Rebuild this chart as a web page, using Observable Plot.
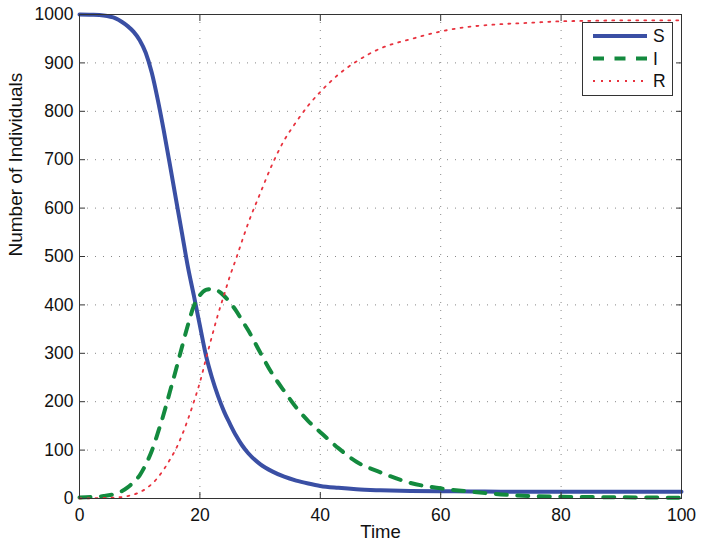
<!DOCTYPE html>
<html><head><meta charset="utf-8">
<script src="https://cdn.jsdelivr.net/npm/d3@7"></script>
<script src="https://cdn.jsdelivr.net/npm/@observablehq/plot@0.6"></script>
<style>
body{margin:0;background:#fff;}
#wrap{position:relative;width:704px;height:550px;font-family:"Liberation Sans",Arial,sans-serif;}
#legend{position:absolute;left:582px;top:22px;width:89px;height:72px;border:1px solid #333;background:#fff;}
</style></head><body><div id="wrap"></div>
<script>
const time        = [0, 2, 4, 6, 7, 8, 9, 10, 11, 12, 13, 14, 15, 16, 17, 18, 19, 20, 21, 22, 23, 24, 25, 26, 27, 28, 30, 32, 34, 36, 38, 40, 43, 46, 50, 55, 60, 65, 70, 75, 80, 85, 90, 95, 100];
const susceptible = [1000, 999.5, 998, 992, 985, 976, 964, 947, 921, 880, 824, 760, 691, 620, 550, 479, 419, 357, 296, 250, 212, 180, 154, 130, 110, 94, 71, 56, 45, 37, 31, 26, 22, 19, 17, 15.5, 15, 14.5, 14.2, 14, 14, 14, 14, 14, 14];
const infected    = [2, 3, 5, 10, 15, 23, 34, 48, 70, 98, 135, 175, 220, 265, 312, 358, 398, 420, 431, 433, 429, 419, 405, 388, 368, 348, 302, 258, 222, 188, 160, 137, 104, 76, 54, 32, 21, 14, 8.5, 5, 3.5, 3, 2.5, 2, 1.5];
const recovered   = [0, 0.5, 1, 2, 3, 5, 8, 13, 20, 30, 43, 60, 80, 102, 130, 163, 200, 240, 288, 335, 380, 420, 460, 495, 532, 568, 630, 690, 740, 778, 812, 840, 876, 903, 930, 949, 965, 975, 980, 983, 986, 987, 988, 988, 988];
const seriesNames = ["S", "I", "R"];
const xTicks = [0, 20, 40, 60, 80, 100];
const yTicks = [0, 100, 200, 300, 400, 500, 600, 700, 800, 900, 1000];
const xLabel = "Time";
const yLabel = "Number of Individuals";

const colors = {S: "#3a4fa4", I: "#138a3e", R: "#e8323e"};
const widths = {S: 4, I: 4, R: 1.8};
const dashes = {S: null, I: "11,10.5", R: "2,6"};

const rows = (vals) => time.map((t, i) => ({t, v: vals[i]}));
const seriesData = {S: rows(susceptible), I: rows(infected), R: rows(recovered)};

const font = "Liberation Sans, Arial, sans-serif";
const noText = () => "";
const chart = Plot.plot({
  width: 704, height: 550,
  marginLeft: 79, marginRight: 23, marginTop: 14, marginBottom: 52,
  style: {fontFamily: font, fontSize: "17.5px", color: "#111", background: "#fff"},
  x: {domain: [0, 100]},
  y: {domain: [0, 1000]},
  marks: [
    Plot.gridX(xTicks, {stroke: "#888", strokeOpacity: 1, strokeDasharray: "1,7", strokeWidth: 1}),
    Plot.gridY(yTicks, {stroke: "#888", strokeOpacity: 1, strokeDasharray: "1,7", strokeWidth: 1}),
    ...seriesNames.map(s => Plot.line(seriesData[s], {x: "t", y: "v", stroke: colors[s], strokeWidth: widths[s], strokeDasharray: dashes[s], curve: "monotone-x"})),
    Plot.frame({stroke: "#333", strokeWidth: 1}),
    Plot.axisX(xTicks, {anchor: "bottom", tickSize: 0, tickPadding: 10, fontSize: 17.5, tickFormat: d => String(d), label: null}),
    Plot.axisY(yTicks, {anchor: "left", tickSize: 0, tickPadding: 6, fontSize: 17.5, tickFormat: d => String(d), label: null}),
    Plot.axisX(xTicks, {anchor: "bottom", tickSize: 6, dy: -6, tickFormat: noText, label: null, stroke: "#333"}),
    Plot.axisX(xTicks, {anchor: "top", tickSize: 6, dy: 6, tickFormat: noText, label: null, stroke: "#333"}),
    Plot.axisY(yTicks, {anchor: "left", tickSize: 6, dx: 6, tickFormat: noText, label: null, stroke: "#333"}),
    Plot.axisY(yTicks, {anchor: "right", tickSize: 6, dx: -6, tickFormat: noText, label: null, stroke: "#333"}),
    Plot.text([xLabel], {frameAnchor: "bottom", dy: 39, fontSize: 18.5, fill: "#111"}),
    Plot.text([yLabel], {frameAnchor: "left", dx: -64, rotate: -90, fontSize: 19, fill: "#111"})
  ]
});
const wrap = document.getElementById("wrap");
wrap.appendChild(chart);

// legend
const legend = document.createElement("div");
legend.id = "legend";
const ns = "http://www.w3.org/2000/svg";
const lsvg = document.createElementNS(ns, "svg");
lsvg.setAttribute("width", 89); lsvg.setAttribute("height", 72);
seriesNames.forEach((s, i) => {
  const y = 13 + i * 22.5;
  const ln = document.createElementNS(ns, "line");
  ln.setAttribute("x1", 10); ln.setAttribute("x2", 64);
  ln.setAttribute("y1", y); ln.setAttribute("y2", y);
  ln.setAttribute("stroke", colors[s]); ln.setAttribute("stroke-width", widths[s]);
  if (dashes[s]) ln.setAttribute("stroke-dasharray", dashes[s]);
  lsvg.appendChild(ln);
  const tx = document.createElementNS(ns, "text");
  tx.setAttribute("x", 70); tx.setAttribute("y", y);
  tx.setAttribute("dy", "0.35em");
  tx.setAttribute("font-size", 17.5); tx.setAttribute("font-family", font);
  tx.setAttribute("fill", "#111");
  tx.textContent = s;
  lsvg.appendChild(tx);
});
legend.appendChild(lsvg);
wrap.appendChild(legend);
</script></body></html>
